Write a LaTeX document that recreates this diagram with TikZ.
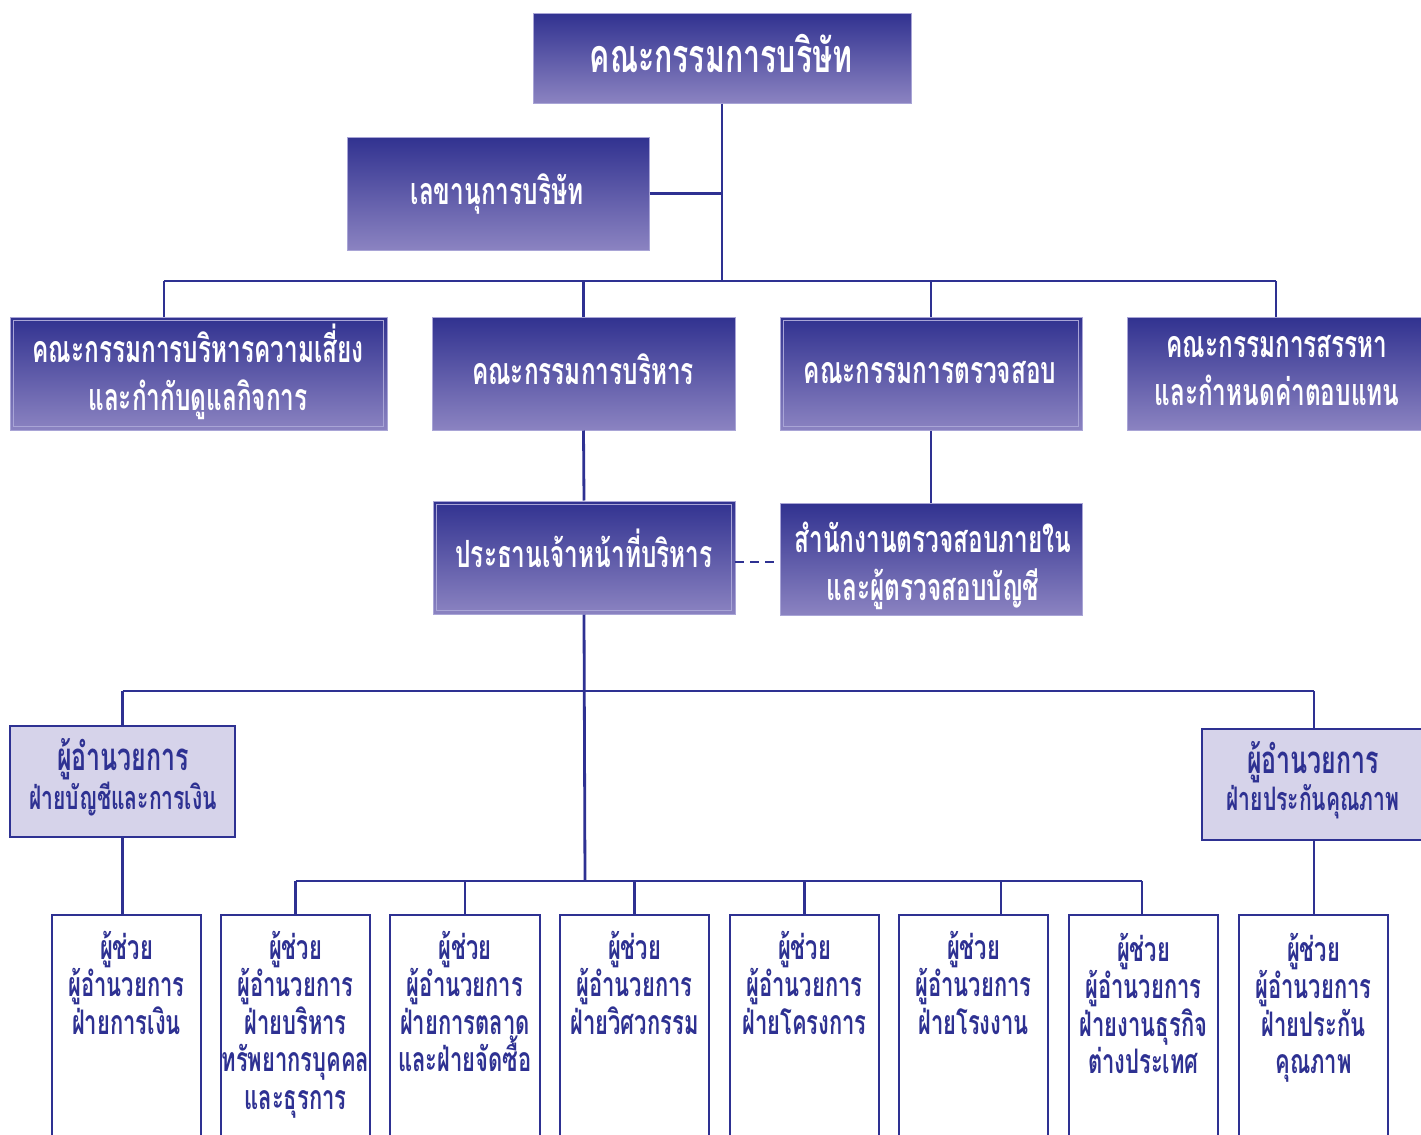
\documentclass[tikz,border=0pt]{standalone}
\usepackage{fontspec}
\newfontfamily\thai[Script=Thai,FakeStretch=0.65]{Loma}
\usetikzlibrary{fit}
\definecolor{navy}{HTML}{2E3192}
\definecolor{gtop}{HTML}{313290}
\definecolor{gbot}{HTML}{8B83C1}
\definecolor{lightfill}{HTML}{D6D3EA}
\definecolor{edge}{HTML}{A9A5D6}
\begin{document}
\begin{tikzpicture}[x=0.5pt,y=-0.5pt,
  gbox/.style={fit={#1}, inner sep=0pt, top color=gtop, bottom color=gbot, draw=edge, line width=0.5pt},
  gtext/.style={text=white, align=center, inner sep=0pt, font=\thai\bfseries\fontsize{18.75}{24}\selectfont},
  lbox/.style={fit={#1}, inner sep=0pt, fill=lightfill, draw=navy, line width=1.4pt},
  ltext/.style={text=navy, align=center, inner sep=0pt},
  wbox/.style={fit={#1}, inner sep=0pt, fill=white, draw=navy, line width=1.4pt},
  wtext/.style={anchor=north, text=navy, align=center, inner sep=0pt,
    font=\thai\bfseries\fontsize{16.9}{18.75}\selectfont},
  conn/.style={draw=navy, line width=1.4pt},
  inset/.style={draw=edge, line width=0.5pt}]
\clip (0,0) rectangle (1421,1135);
\fill[white] (0,0) rectangle (1421,1135);

% top level
\node[gbox={(533,13) (911,103)}] (board) {};
\node[gbox={(347,137) (649,250)}] (sec) {};
% committees
\node[gbox={(10,317) (387,430)}] (risk) {};
\node[gbox={(432,317) (735,430)}] (exec) {};
\node[gbox={(780,317) (1082,430)}] (audit) {};
\node[gbox={(1127,317) (1427,430)}] (nom) {};
% second level
\node[gbox={(433,501) (735,614)}] (ceo) {};
\node[gbox={(780,503) (1082,615)}] (ia) {};

\foreach \n in {risk,audit,ceo}
  \draw[inset] ([shift={(4,4)}]\n.north west) rectangle ([shift={(-4,-4)}]\n.south east);

\node[gtext, font=\thai\bfseries\fontsize{23.3}{24}\selectfont] (boardt) at (721,54) {คณะกรรมการบริษัท};
\node[gtext] (sect) at (497,194) {เลขานุการบริษัท};
\node[gtext] (riskt) at (198,372) {คณะกรรมการบริหารความเสี่ยง\\และกำกับดูแลกิจการ};
\node[gtext] (exect) at (583,369) {คณะกรรมการบริหาร};
\node[gtext] (auditt) at (930,373) {คณะกรรมการตรวจสอบ};
\node[gtext] (nomt) at (1277,371) {คณะกรรมการสรรหา\\และกำหนดค่าตอบแทน};
\node[gtext] (ceot) at (584,548) {ประธานเจ้าหน้าที่บริหาร};
\node[gtext] (iat) at (933,566) {สำนักงานตรวจสอบภายใน\\และผู้ตรวจสอบบัญชี};

% directors
\node[lbox={(10,726) (235,837)}] (fin) {};
\node[lbox={(1202,729) (1426,840)}] (qa) {};
\node[ltext] (fint) at (123,777) {{\thai\bfseries\fontsize{19.2}{22}\selectfont ผู้อำนวยการ}\\{\thai\bfseries\fontsize{16.2}{24}\selectfont ฝ่ายบัญชีและการเงิน}};
\node[ltext] (qat) at (1313,780) {{\thai\bfseries\fontsize{19.2}{22}\selectfont ผู้อำนวยการ}\\{\thai\bfseries\fontsize{16.2}{24}\selectfont ฝ่ายประกันคุณภาพ}};

% bottom boxes
\node[wbox={(52,915) (201,1145)}] (b1) {};
\node[wbox={(221,915) (370,1145)}] (b2) {};
\node[wbox={(390,915) (540,1145)}] (b3) {};
\node[wbox={(560,915) (709,1145)}] (b4) {};
\node[wbox={(730,915) (879,1145)}] (b5) {};
\node[wbox={(899,915) (1048,1145)}] (b6) {};
\node[wbox={(1069,915) (1218,1145)}] (b7) {};
\node[wbox={(1239,915) (1388,1145)}] (b8) {};

\node[wtext] (t1) at ([shift={(0,17)}]b1.north) {ผู้ช่วย\\ผู้อำนวยการ\\ฝ่ายการเงิน};
\node[wtext] (t2) at ([shift={(0,17)}]b2.north) {ผู้ช่วย\\ผู้อำนวยการ\\ฝ่ายบริหาร\\ทรัพยากรบุคคล\\และธุรการ};
\node[wtext] (t3) at ([shift={(0,17)}]b3.north) {ผู้ช่วย\\ผู้อำนวยการ\\ฝ่ายการตลาด\\และฝ่ายจัดซื้อ};
\node[wtext] (t4) at ([shift={(0,17)}]b4.north) {ผู้ช่วย\\ผู้อำนวยการ\\ฝ่ายวิศวกรรม};
\node[wtext] (t5) at ([shift={(0,17)}]b5.north) {ผู้ช่วย\\ผู้อำนวยการ\\ฝ่ายโครงการ};
\node[wtext] (t6) at ([shift={(0,17)}]b6.north) {ผู้ช่วย\\ผู้อำนวยการ\\ฝ่ายโรงงาน};
\node[wtext] (t7) at ([shift={(0,19)}]b7.north) {ผู้ช่วย\\ผู้อำนวยการ\\ฝ่ายงานธุรกิจ\\ต่างประเทศ};
\node[wtext] (t8) at ([shift={(0,19)}]b8.north) {ผู้ช่วย\\ผู้อำนวยการ\\ฝ่ายประกัน\\คุณภาพ};

% connectors: top
\coordinate (bus1) at (720,281);
\coordinate (d1) at (164,281);
\coordinate (d4) at (1276,281);
\coordinate (dl) at (735,562);
\draw[conn] (board.south) -- (board.south |- bus1);
\draw[conn] (sec.east) -- (sec.east -| board.south);
\draw[conn] (d1) -- (d4);
\draw[conn] (d1) -- (d1 |- risk.north);
\draw[conn] (exec.north |- bus1) -- (exec.north);
\draw[conn] (audit.north |- bus1) -- (audit.north);
\draw[conn] (d4) -- (d4 |- nom.north);
\draw[conn] (exec.south) -- (ceo.north);
\draw[conn] (audit.south) -- (audit.south |- ia.north);
\draw[conn, dash pattern=on 4.5pt off 3pt] (dl) -- (dl -| ia.west);

% connectors: middle
\coordinate (bus2) at (585,691);
\coordinate (bus3) at (585,881);
\coordinate (e3) at (1001,881);
\coordinate (e4) at (1142,881);
\draw[conn] (ceo.south) -- (bus3);
\draw[conn] (fin.north |- bus2) -- (qa.north |- bus2);
\draw[conn] (fin.north |- bus2) -- (fin.north);
\draw[conn] (qa.north |- bus2) -- (qa.north);
\draw[conn] (fin.south) -- (fin.south |- b1.north);
\draw[conn] (qa.south) -- (qa.south |- b8.north);

% connectors: bottom
\draw[conn] (b2.north |- bus3) -- (e4);
\draw[conn] (b2.north |- bus3) -- (b2.north);
\draw[conn] (b3.north |- bus3) -- (b3.north);
\draw[conn] (b4.north |- bus3) -- (b4.north);
\draw[conn] (b5.north |- bus3) -- (b5.north);
\draw[conn] (e3) -- (e3 |- b6.north);
\draw[conn] (e4) -- (e4 |- b7.north);
\end{tikzpicture}
\end{document}
